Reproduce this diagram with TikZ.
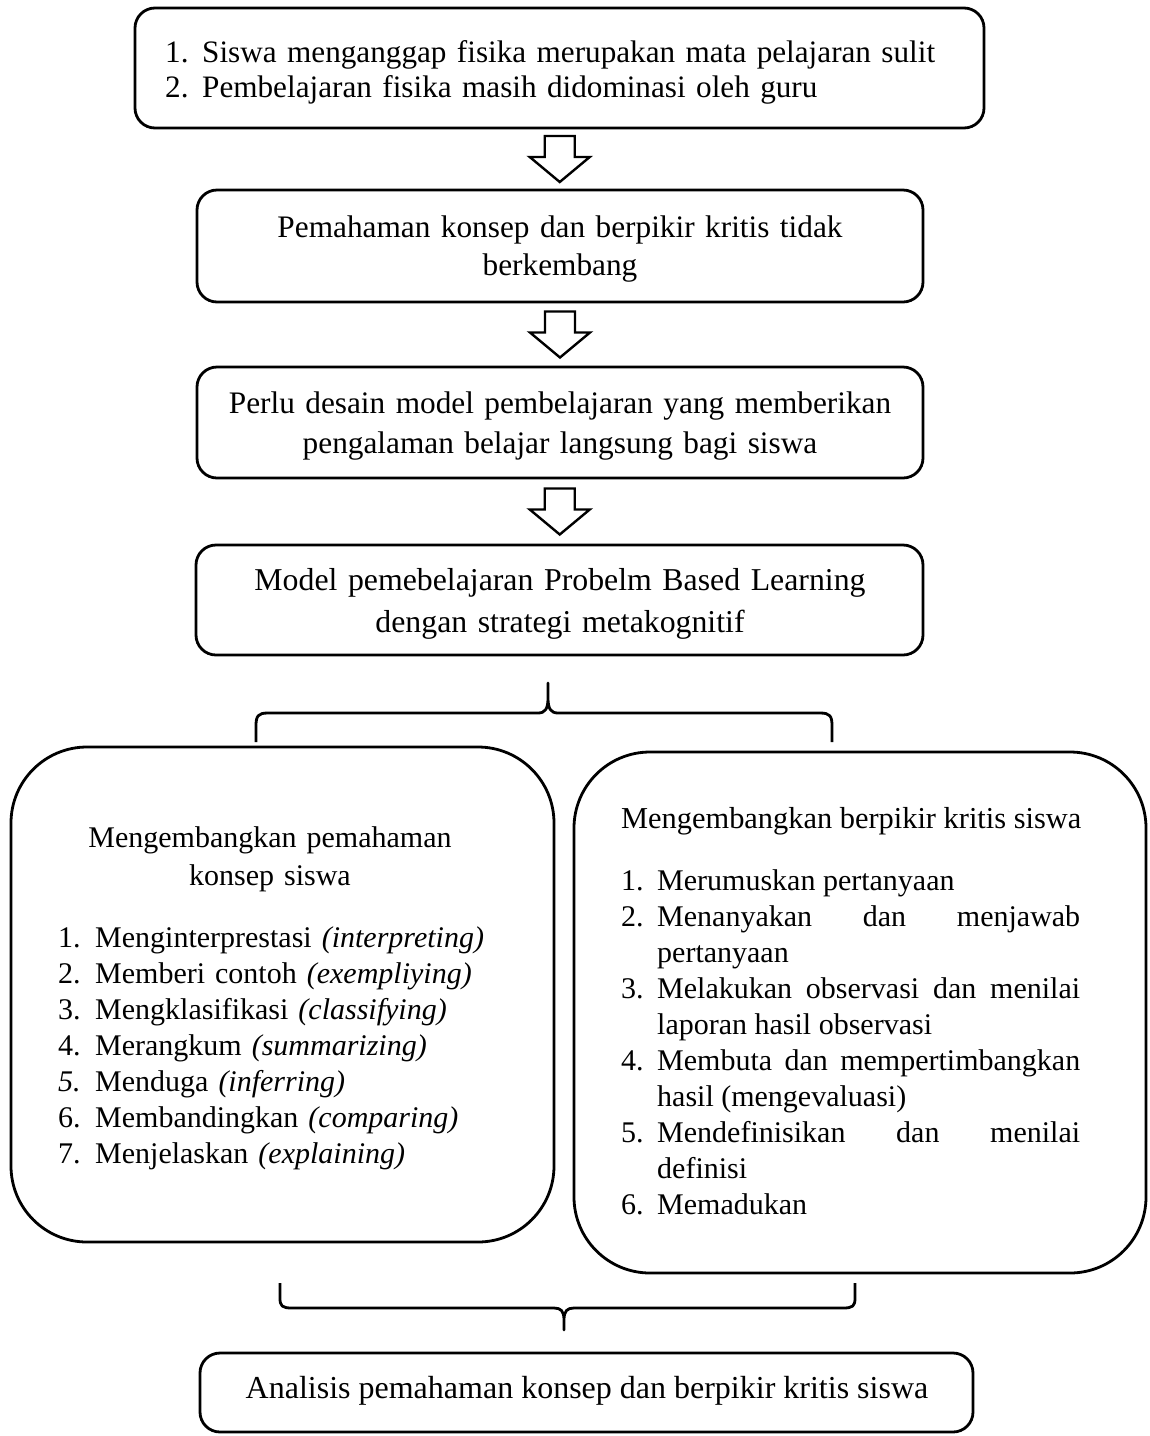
\documentclass[tikz,border=0pt]{standalone}
\usepackage{fontspec}
\setmainfont{Liberation Serif}
\usetikzlibrary{calc}
\begin{document}
\begin{tikzpicture}[x=1pt,y=-1pt,
  box/.style={draw, line width=2.8pt, rounded corners=20pt, inner sep=0pt},
  bigbox/.style={draw, line width=2.8pt, rounded corners=76pt, inner sep=0pt},
  txt/.style={inner sep=0pt, font=\fontsize{30}{36}\selectfont},
  brace/.style={draw, line width=2.8pt, line join=round},
  arr/.style={draw, line width=2.4pt, line join=miter, fill=white},
  pics/downarrow/.style={code={\draw[arr] (-15,-23) -- (15,-23) -- (15,-2) -- (30,-2) -- (0,23) -- (-30,-2) -- (-15,-2) -- cycle;}}
]
\useasboundingbox (0,0) rectangle (1150,1436);

% boxes
\node[box, minimum width=849pt, minimum height=120pt] (b1) at (559.5,68) {};
\node[box, minimum width=726pt, minimum height=112pt] (b2) at (560,246) {};
\node[box, minimum width=726pt, minimum height=111pt] (b3) at (560,422.5) {};
\node[box, minimum width=727pt, minimum height=110pt] (b4) at (559.5,600) {};
\node[bigbox, minimum width=543pt, minimum height=495pt] (lb) at (282.5,994.5) {};
\node[bigbox, minimum width=572pt, minimum height=521pt] (rb) at (860,1012.5) {};
\node[box, minimum width=773pt, minimum height=79pt] (b7) at (586.5,1392.5) {};

% texts
\node[txt, text width=800pt, align=left, anchor=base west, font=\fontsize{31.2}{35}\selectfont] (t1) at (165,62)
 {\makebox[37pt][l]{1.}Siswa menganggap fisika merupakan mata pelajaran sulit\\
  \makebox[37pt][l]{2.}Pembelajaran fisika masih didominasi oleh guru};
\node[txt, text width=720pt, align=center, anchor=base, font=\fontsize{31.3}{38}\selectfont] (t2) at (560,237)
 {Pemahaman konsep dan berpikir kritis tidak\\berkembang};
\node[txt, text width=720pt, align=center, anchor=base, font=\fontsize{31.3}{40}\selectfont] (t3) at (560,413)
 {Perlu desain model pembelajaran yang memberikan\\pengalaman belajar langsung bagi siswa};
\node[txt, text width=720pt, align=center, anchor=base, font=\fontsize{31.8}{42}\selectfont] (t4) at (560,590)
 {Model pemebelajaran Probelm Based Learning\\dengan strategi metakognitif};

\node[txt, text width=480pt, align=center, anchor=base, font=\fontsize{30}{38}\selectfont] (lt) at (270,847)
 {Mengembangkan pemahaman\\konsep siswa};
\node[txt, text width=480pt, align=left, anchor=base west] (ll) at (58,947)
 {\makebox[37pt][l]{1.}Menginterprestasi \textit{(interpreting)}\\
  \makebox[37pt][l]{2.}Memberi contoh \textit{(exempliying)}\\
  \makebox[37pt][l]{3.}Mengklasifikasi \textit{(classifying)}\\
  \makebox[37pt][l]{4.}Merangkum \textit{(summarizing)}\\
  \makebox[37pt][l]{\textit{5.}}Menduga \textit{(inferring)}\\
  \makebox[37pt][l]{6.}Membandingkan \textit{(comparing)}\\
  \makebox[37pt][l]{7.}Menjelaskan \textit{(explaining)}};

\node[txt, anchor=base west, font=\fontsize{30.4}{36}\selectfont] (rt) at (621,828) {Mengembangkan berpikir kritis siswa};
\node[txt, text width=459pt, align=justify, anchor=base west] (rl) at (621,890)
 {\hyphenpenalty=10000 \tolerance=10000 \hbadness=10000
  \hangindent=36pt\hangafter=1\noindent\makebox[36pt][l]{1.}Merumuskan pertanyaan\par
  \hangindent=36pt\hangafter=1\noindent\makebox[36pt][l]{2.}Menanyakan dan menjawab\linebreak pertanyaan\par
  \hangindent=36pt\hangafter=1\noindent\makebox[36pt][l]{3.}Melakukan observasi dan menilai\linebreak laporan hasil observasi\par
  \hangindent=36pt\hangafter=1\noindent\makebox[36pt][l]{4.}Membuta dan mempertimbangkan\linebreak hasil (mengevaluasi)\par
  \hangindent=36pt\hangafter=1\noindent\makebox[36pt][l]{5.}Mendefinisikan dan menilai\linebreak definisi\par
  \hangindent=36pt\hangafter=1\noindent\makebox[36pt][l]{6.}Memadukan\par};

\node[txt, anchor=base, font=\fontsize{32}{36}\selectfont] (t7) at (587,1398) {Analisis pemahaman konsep dan berpikir kritis siswa};

% block arrows
\pic at ($(b1.south)!0.5!(b2.north)$) {downarrow};
\pic at ($(b2.south)!0.5!(b3.north)$) {downarrow};
\pic at ($(b3.south)!0.5!(b4.north)$) {downarrow};

% upper brace
\coordinate (ubl) at (256,742);
\coordinate (ubt) at (548,683);
\coordinate (ubr) at (832,742);
\draw[brace] (ubl) -- (256,726) .. controls (256,716) and (258,713) .. (268,713)
  -- (538,713) .. controls (545,713) and (548,709) .. (548,698) -- (ubt)
  -- (548,698) .. controls (548,709) and (551,713) .. (558,713)
  -- (820,713) .. controls (830,713) and (832,716) .. (832,726) -- (ubr);

% lower brace
\coordinate (dbl) at (280,1283);
\coordinate (dbt) at (564,1330);
\coordinate (dbr) at (855,1283);
\draw[brace] (dbl) -- (280,1298) .. controls (280,1306) and (282,1308) .. (292,1308)
  -- (554,1308) .. controls (561,1308) and (564,1311) .. (564,1320) -- (dbt)
  -- (564,1320) .. controls (564,1311) and (567,1308) .. (574,1308)
  -- (843,1308) .. controls (853,1308) and (855,1306) .. (855,1298) -- (dbr);
\end{tikzpicture}
\end{document}
